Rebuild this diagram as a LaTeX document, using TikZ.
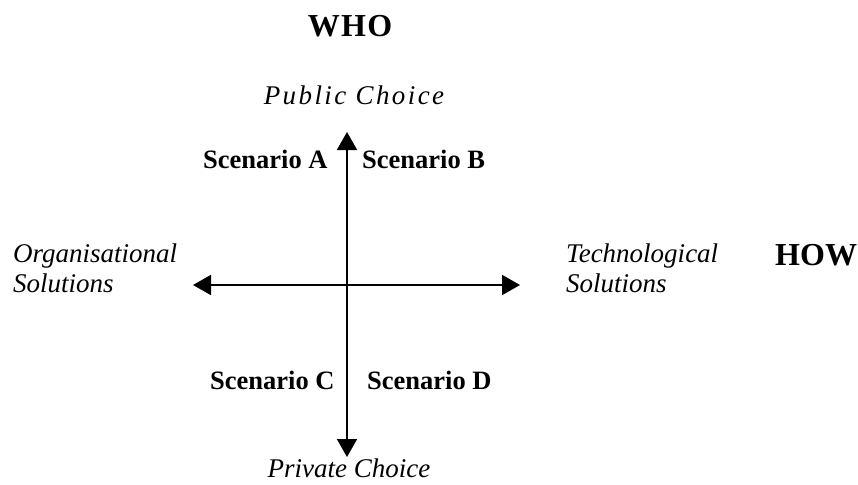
\documentclass[tikz,border=0pt]{standalone}
\usepackage{fontspec}
\setmainfont{Liberation Serif}
\newfontfamily\spacedfont[LetterSpace=9]{Liberation Serif}
\newfontfamily\widefont[LetterSpace=4]{Liberation Serif}
\usepackage{tikz}
\usetikzlibrary{arrows.meta}

\begin{document}
\begin{tikzpicture}[x=1pt,y=-1pt,
  every node/.style={inner sep=0pt,font=\fontsize{27}{30}\selectfont},
  lbl/.style={anchor=base west,font=\fontsize{26.5}{30}\selectfont\bfseries},
  pole/.style={anchor=base,font=\fontsize{27}{30}\selectfont\itshape},
  side/.style={anchor=base west,align=left,font=\fontsize{27}{30}\selectfont\itshape},
  dim/.style={font=\fontsize{32}{36}\selectfont\bfseries},
  ax/.style={{Triangle[length=18pt,width=20pt]}-{Triangle[length=18pt,width=20pt]},line width=1.8pt}]
\useasboundingbox (0,0) rectangle (858,484);
% axes
\coordinate (top) at (347,132);
\coordinate (bot) at (347,457);
\coordinate (lft) at (193,285);
\coordinate (rgt) at (520,285);
\draw[ax] (bot) -- (top);
\draw[ax] (lft) -- (rgt);
% labels
\node[dim,anchor=base,font=\fontsize{32}{36}\selectfont\widefont\bfseries] (who) at (350,37) {WHO};
\node[pole,font=\fontsize{27}{30}\selectfont\spacedfont\itshape] (pub) at (354,104) {Public Choice};
\node[pole] (priv) at (349,477) {Private Choice};
\node[side] (org) at (13,262) {Organisational};
\node[side] (orgs) at (13,292) {Solutions};
\node[side] (tech) at (566,262) {Technological};
\node[side] (techs) at (566,292) {Solutions};
\node[dim,anchor=base west] (how) at (775,265) {HOW};
\node[lbl] (sa) at (203,168) {Scenario A};
\node[lbl] (sb) at (362,168) {Scenario B};
\node[lbl] (sc) at (210,389) {Scenario C};
\node[lbl] (sd) at (367,389) {Scenario D};
\end{tikzpicture}
\end{document}
